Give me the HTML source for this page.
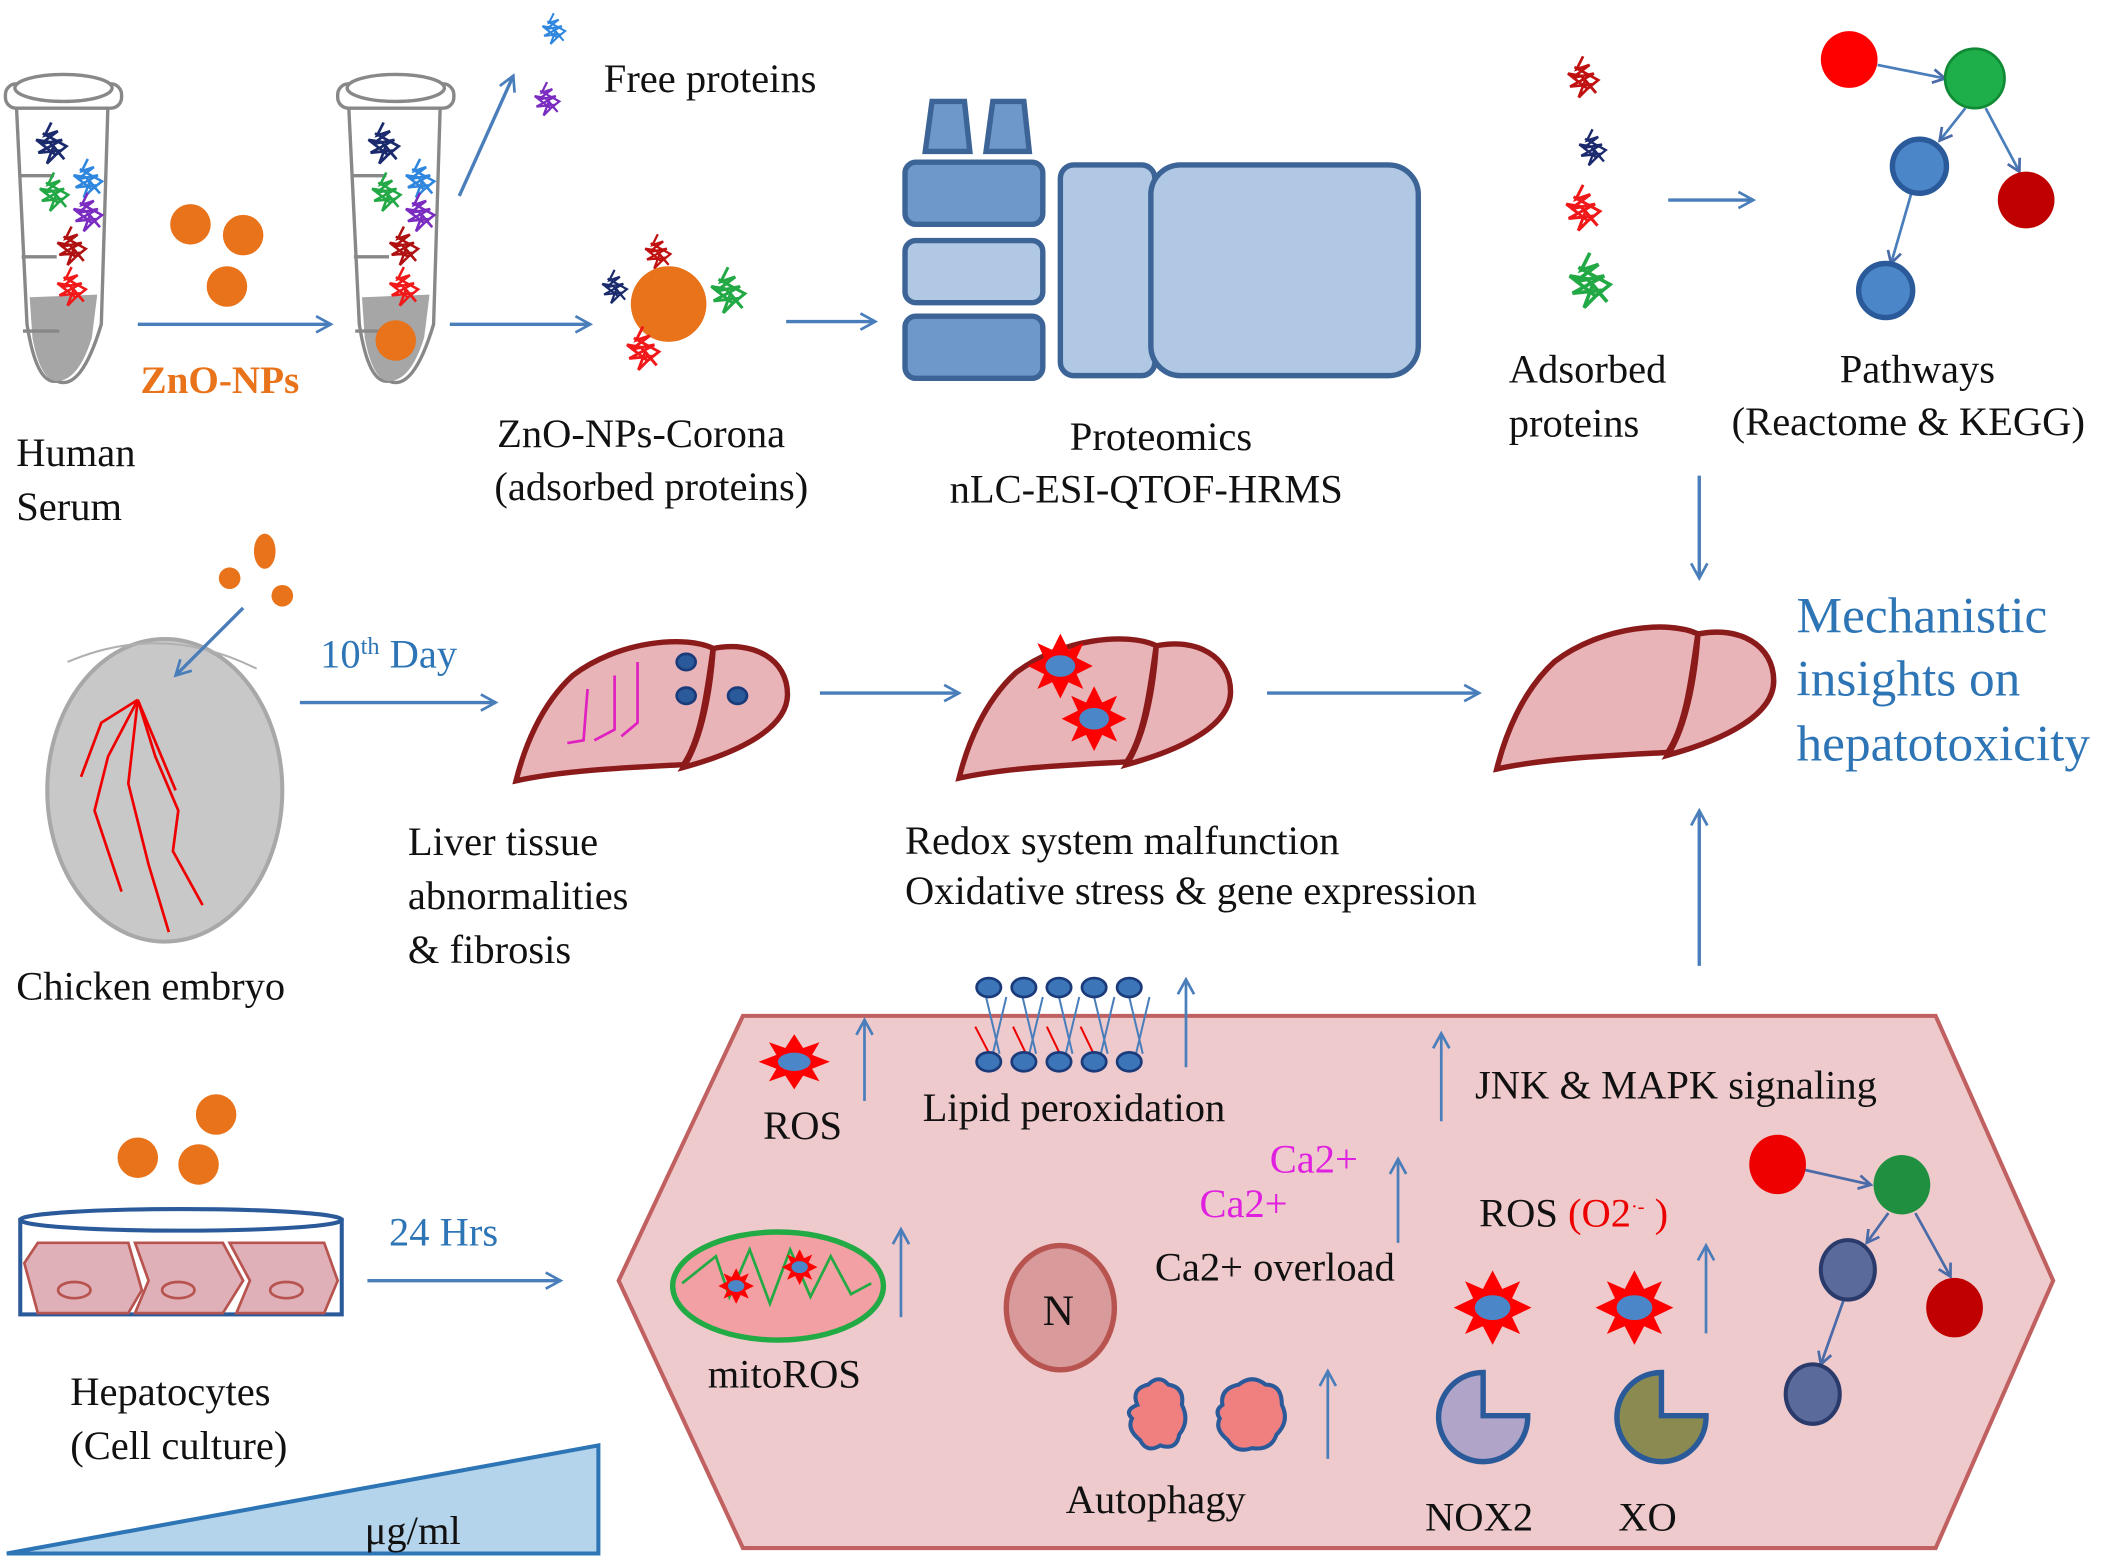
<!DOCTYPE html>
<html><head><meta charset="utf-8"><style>
html,body{margin:0;padding:0;background:#fff}
svg{display:block}
text{font-family:"Liberation Serif","DejaVu Serif",serif;font-size:30px;fill:#111}
</style></head><body>
<svg width="2118" height="1559" viewBox="0 0 1568 1154" xmlns="http://www.w3.org/2000/svg" font-family="Liberation Serif, DejaVu Serif, serif">
<defs>
<marker id="a" markerWidth="14" markerHeight="14" refX="12" refY="7" orient="auto" markerUnits="userSpaceOnUse"><path d="M1,1 L12,7 L1,13" fill="none" stroke="#4A7EBB" stroke-width="2"/></marker>
<marker id="a2" markerWidth="12" markerHeight="12" refX="10" refY="6" orient="auto" markerUnits="userSpaceOnUse"><path d="M1,1 L10,6 L1,11" fill="none" stroke="#4A6AA8" stroke-width="2"/></marker>
<symbol id="p" viewBox="0 0 40 45" overflow="visible"><path d="M20,2 L14,14 L26,10 L10,22 L30,18 L8,30 L28,28 L16,40 L22,24 L32,36 L18,20 L6,18 L24,32 L34,24 L12,12" fill="none" stroke-width="2.5"/></symbol>
<g id="liver"><path d="M4,112 C10,88 22,56 46,34 C80,8 130,4 150,14 C146,40 142,80 128,100 C90,102 40,104 4,112 Z" fill="#E8B4B8" stroke="#8B1A1A" stroke-width="4"/><path d="M150,14 C180,8 205,22 205,48 C205,72 172,90 128,102 C142,80 148,44 150,14 Z" fill="#E8B4B8" stroke="#8B1A1A" stroke-width="4"/></g>
<g id="star"><polygon points="0,-24 6,-12 17,-17 12,-6 24,0 12,6 17,17 6,12 0,24 -6,12 -17,17 -12,6 -24,0 -12,-6 -17,-17 -6,-12" fill="#F00"/><ellipse rx="11" ry="8" fill="#4A86C8"/></g>
</defs>
<rect width="1568" height="1154" fill="#fff"/>
<g id="tube" stroke="#888" stroke-width="2.5" fill="#fff">
<path d="M12,75 L80,75 L75,240 Q60,290 42,282 Q27,285 20,240 Z"/>
<path d="M22,220 L72,218 L68,250 Q58,282 42,282 Q30,282 24,250 Z" fill="#A6A6A6" stroke="none"/>
<rect x="4" y="62" width="86" height="18" rx="8"/>
<ellipse cx="47" cy="65" rx="36" ry="10"/>
<path d="M15,130 L40,130 M16,190 L42,190 M17,245 L44,245" fill="none"/>
</g>
<use href="#tube" x="246"/>
<use href="#p" x="22" y="88" width="32" height="38" stroke="#1A2A6C"/>
<use href="#p" x="50" y="115" width="30" height="36" stroke="#2E86DE"/>
<use href="#p" x="25" y="125" width="30" height="36" stroke="#22A844"/>
<use href="#p" x="50" y="140" width="30" height="36" stroke="#7A2BC0"/>
<use href="#p" x="38" y="165" width="30" height="36" stroke="#B01010"/>
<use href="#p" x="38" y="195" width="30" height="36" stroke="#F01818"/>
<use href="#p" x="268" y="88" width="32" height="38" stroke="#1A2A6C"/>
<use href="#p" x="296" y="115" width="30" height="36" stroke="#2E86DE"/>
<use href="#p" x="271" y="125" width="30" height="36" stroke="#22A844"/>
<use href="#p" x="296" y="140" width="30" height="36" stroke="#7A2BC0"/>
<use href="#p" x="284" y="165" width="30" height="36" stroke="#B01010"/>
<use href="#p" x="284" y="195" width="30" height="36" stroke="#F01818"/>
<circle cx="293" cy="252" r="15" fill="#E8731A"/>
<g fill="#E8731A"><circle cx="141" cy="166" r="15"/><circle cx="180" cy="174" r="15"/><circle cx="168" cy="212" r="15"/></g>
<line x1="102" y1="240" x2="245" y2="240" stroke="#4A7EBB" stroke-width="2.5" marker-end="url(#a)"/>
<text x="104" y="291" style="font-weight:bold;fill:#E8731A;font-size:29px">ZnO-NPs</text>
<text x="12" y="345">Human</text><text x="12" y="385">Serum</text>
<line x1="340" y1="145" x2="380" y2="56" stroke="#4A7EBB" stroke-width="2.5" marker-end="url(#a)"/>
<use href="#p" x="398" y="2" width="24" height="40" stroke="#2E86DE"/>
<use href="#p" x="392" y="54" width="26" height="40" stroke="#7A2BC0"/>
<text x="447" y="68">Free proteins</text>
<line x1="333" y1="240" x2="437" y2="240" stroke="#4A7EBB" stroke-width="2.5" marker-end="url(#a)"/>
<use href="#p" x="470" y="172" width="34" height="30" stroke="#C01010"/>
<use href="#p" x="442" y="196" width="26" height="34" stroke="#1A2A6C"/>
<circle cx="495" cy="225" r="28" fill="#E8731A"/>
<use href="#p" x="520" y="196" width="38" height="40" stroke="#22A844"/>
<use href="#p" x="458" y="240" width="36" height="38" stroke="#F01818"/>
<text x="368" y="331">ZnO-NPs-Corona</text><text x="366" y="370">(adsorbed proteins)</text>
<line x1="582" y1="238" x2="648" y2="238" stroke="#4A7EBB" stroke-width="2.5" marker-end="url(#a)"/>
<g stroke="#3C6496" stroke-width="4">
<polygon points="690,75 714,75 718,112 685,112" fill="#6E98C8"/>
<polygon points="735,75 758,75 762,112 730,112" fill="#6E98C8"/>
<rect x="670" y="120" width="102" height="46" rx="8" fill="#6E98C8"/>
<rect x="670" y="178" width="102" height="46" rx="8" fill="#B0C8E4"/>
<rect x="670" y="234" width="102" height="46" rx="8" fill="#6E98C8"/>
<rect x="785" y="122" width="70" height="156" rx="10" fill="#B0C8E4"/>
<rect x="852" y="122" width="198" height="156" rx="22" fill="#B0C8E4"/>
</g>
<text x="792" y="333">Proteomics</text><text x="703" y="372">nLC-ESI-QTOF-HRMS</text>
<use href="#p" x="1152" y="40" width="40" height="36" stroke="#C01010"/>
<use href="#p" x="1165" y="92" width="28" height="36" stroke="#1A2A6C"/>
<use href="#p" x="1152" y="135" width="40" height="40" stroke="#F01818"/>
<use href="#p" x="1152" y="185" width="50" height="48" stroke="#22A844"/>
<line x1="1235" y1="148" x2="1298" y2="148" stroke="#4A7EBB" stroke-width="2.5" marker-end="url(#a)"/>
<text x="1117" y="283">Adsorbed</text><text x="1117" y="323">proteins</text>
<g stroke="#4A7EBB" stroke-width="2" marker-end="url(#a2)">
<line x1="1390" y1="48" x2="1440" y2="58"/><line x1="1455" y1="80" x2="1436" y2="104"/><line x1="1470" y1="80" x2="1495" y2="127"/><line x1="1415" y1="143" x2="1400" y2="195"/></g>
<circle cx="1369" cy="44" r="21" fill="#F00"/><circle cx="1462" cy="58" r="22" fill="#1FAF4A" stroke="#118A35" stroke-width="2"/>
<circle cx="1421" cy="123" r="20" fill="#4A86C8" stroke="#2A5A9A" stroke-width="4"/><circle cx="1500" cy="148" r="21" fill="#C00000"/>
<circle cx="1396" cy="215" r="20" fill="#4A86C8" stroke="#2A5A9A" stroke-width="4"/>
<text x="1362" y="283">Pathways</text><text x="1282" y="322">(Reactome &amp; KEGG)</text>
<line x1="1258" y1="352" x2="1258" y2="428" stroke="#4A7EBB" stroke-width="2.5" marker-end="url(#a)"/>
<text x="1330" y="468" style="fill:#2E75B6;font-size:38px">Mechanistic</text><text x="1330" y="515" style="fill:#2E75B6;font-size:38px">insights on</text><text x="1330" y="563" style="fill:#2E75B6;font-size:38px">hepatotoxicity</text>
<line x1="1258" y1="715" x2="1258" y2="600" stroke="#4A7EBB" stroke-width="2.5" marker-end="url(#a)"/>
<ellipse cx="122" cy="585" rx="87" ry="112" fill="#C8C8C8" stroke="#A8A8A8" stroke-width="3"/>
<path d="M50,490 Q120,460 190,495" fill="none" stroke="#B0B0B0" stroke-width="1.5"/>
<g fill="none" stroke="#E00" stroke-width="2"><path d="M102,518 L80,560 L70,600 L90,660"/><path d="M102,518 L95,580 L110,640 L125,690"/><path d="M102,518 L115,560 L132,600 L128,630 L150,670"/><path d="M102,518 L75,535 L60,575"/><path d="M102,518 L130,585"/></g>
<g fill="#E8731A"><ellipse cx="196" cy="408" rx="8" ry="13"/><circle cx="170" cy="428" r="8"/><circle cx="209" cy="441" r="8"/></g>
<line x1="180" y1="450" x2="130" y2="500" stroke="#4A7EBB" stroke-width="2.5" marker-end="url(#a)"/>
<text x="12" y="740">Chicken embryo</text>
<line x1="222" y1="520" x2="367" y2="520" stroke="#4A7EBB" stroke-width="2.5" marker-end="url(#a)"/>
<text x="237" y="494" style="fill:#2E75B6">10<tspan dy="-10" style="font-size:18px">th</tspan><tspan dy="10"> Day</tspan></text>
<use href="#liver" x="378" y="466"/>
<g fill="none" stroke="#E020C0" stroke-width="2"><path d="M435,510 L432,548 L420,550"/><path d="M455,500 L455,540 L440,548"/><path d="M472,490 L472,535 L460,545"/></g>
<g fill="#2A5A9A" stroke="#1A3A7A" stroke-width="2"><ellipse cx="508" cy="490" rx="7" ry="6"/><ellipse cx="508" cy="515" rx="7" ry="6"/><ellipse cx="546" cy="515" rx="7" ry="6"/></g>
<line x1="607" y1="513" x2="710" y2="513" stroke="#4A7EBB" stroke-width="2.5" marker-end="url(#a)"/>
<use href="#liver" x="706" y="464"/>
<use href="#star" transform="translate(785,493)"/><use href="#star" transform="translate(810,532)"/>
<line x1="938" y1="513" x2="1095" y2="513" stroke="#4A7EBB" stroke-width="2.5" marker-end="url(#a)"/>
<use href="#liver" transform="translate(1104,455) scale(1.02)"/>
<text x="302" y="633">Liver tissue</text><text x="302" y="673">abnormalities</text><text x="302" y="713">&amp; fibrosis</text>
<text x="670" y="632">Redox system malfunction</text><text x="670" y="669">Oxidative stress &amp; gene expression</text>
<g fill="#E8731A"><circle cx="160" cy="825" r="15"/><circle cx="102" cy="857" r="15"/><circle cx="147" cy="862" r="15"/></g>
<rect x="15" y="903" width="238" height="70" fill="#fff" stroke="#2A5A9A" stroke-width="3"/>
<ellipse cx="134" cy="903" rx="119" ry="8" fill="#fff" stroke="#2A5A9A" stroke-width="3"/>
<g fill="#E0B0B8" stroke="#B85450" stroke-width="2">
<polygon points="18,935 28,920 95,920 105,955 95,972 28,972"/><polygon points="100,920 165,920 180,948 165,972 100,972 110,948"/><polygon points="170,920 240,920 250,948 240,972 175,972 185,948"/>
<ellipse cx="55" cy="955" rx="12" ry="6"/><ellipse cx="132" cy="955" rx="12" ry="6"/><ellipse cx="212" cy="955" rx="12" ry="6"/></g>
<text x="288" y="922" style="fill:#2E75B6">24 Hrs</text>
<line x1="272" y1="948" x2="415" y2="948" stroke="#4A7EBB" stroke-width="2.5" marker-end="url(#a)"/>
<text x="52" y="1040">Hepatocytes</text><text x="52" y="1080">(Cell culture)</text>
<polygon points="5,1150 443,1070 443,1150" fill="#B4D4EC" stroke="#2E75B6" stroke-width="3"/>
<text x="270" y="1143">μg/ml</text>
<polygon points="458,948 550,752 1433,752 1520,948 1433,1146 550,1146" fill="#EECACC" stroke="#C06060" stroke-width="3"/>
<use href="#star" transform="translate(588,786) scale(1.1,0.85)"/>
<text x="565" y="843">ROS</text>
<line x1="640" y1="815" x2="640" y2="755" stroke="#4A7EBB" stroke-width="2" marker-end="url(#a)"/>
<g stroke="#4A7EBB" stroke-width="1.5"><path d="M730,738 L740,780 M745,738 L735,780 M757,738 L767,780 M772,738 L762,780 M784,738 L794,780 M799,738 L789,780 M810,738 L820,780 M825,738 L815,780 M836,738 L846,780 M851,738 L841,780"/></g>
<g stroke="#E00" stroke-width="1.5"><path d="M722,760 L735,785 M750,760 L762,785 M775,760 L787,785 M800,760 L812,785"/></g>
<g fill="#3C76B8" stroke="#1A3A7A" stroke-width="2">
<ellipse cx="732" cy="731" rx="9" ry="7"/><ellipse cx="758" cy="731" rx="9" ry="7"/><ellipse cx="784" cy="731" rx="9" ry="7"/><ellipse cx="810" cy="731" rx="9" ry="7"/><ellipse cx="836" cy="731" rx="9" ry="7"/>
<ellipse cx="732" cy="786" rx="9" ry="7"/><ellipse cx="758" cy="786" rx="9" ry="7"/><ellipse cx="784" cy="786" rx="9" ry="7"/><ellipse cx="810" cy="786" rx="9" ry="7"/><ellipse cx="836" cy="786" rx="9" ry="7"/></g>
<text x="683" y="830">Lipid peroxidation</text>
<line x1="878" y1="790" x2="878" y2="725" stroke="#4A7EBB" stroke-width="2" marker-end="url(#a)"/>
<line x1="1067" y1="830" x2="1067" y2="765" stroke="#4A7EBB" stroke-width="2" marker-end="url(#a)"/>
<text x="1092" y="813">JNK &amp; MAPK signaling</text>
<text x="940" y="868" style="fill:#E020E0">Ca2+</text><text x="888" y="901" style="fill:#E020E0">Ca2+</text>
<text x="855" y="948">Ca2+ overload</text>
<line x1="1035" y1="920" x2="1035" y2="858" stroke="#4A7EBB" stroke-width="2" marker-end="url(#a)"/>
<text x="1095" y="908">ROS <tspan style="fill:#E00">(O2<tspan dy="-10" style="font-size:15px;fill:#E00">·-</tspan><tspan dy="10" style="fill:#E00"> )</tspan></tspan></text>
<line x1="1263" y1="987" x2="1263" y2="922" stroke="#4A7EBB" stroke-width="2" marker-end="url(#a)"/>
<ellipse cx="576" cy="952" rx="78" ry="40" fill="#F2A0A4" stroke="#22AA44" stroke-width="4"/>
<path d="M505,950 L530,930 L540,960 L555,925 L570,965 L585,925 L600,960 L615,930 L630,958 L645,950" fill="none" stroke="#22AA44" stroke-width="2"/>
<use href="#star" transform="translate(545,952) scale(0.55)"/><use href="#star" transform="translate(592,938) scale(0.55)"/>
<text x="524" y="1027">mitoROS</text>
<line x1="667" y1="975" x2="667" y2="910" stroke="#4A7EBB" stroke-width="2" marker-end="url(#a)"/>
<ellipse cx="785" cy="968" rx="40" ry="46" fill="#D99A9C" stroke="#B85450" stroke-width="4"/>
<text x="772" y="981" style="font-size:32px">N</text>
<g fill="#F08080" stroke="#2A5A9A" stroke-width="3">
<path d="M842,1040 q-5,-12 8,-15 q8,-8 15,0 q12,2 10,15 q6,12 -2,22 q-2,12 -14,8 q-10,6 -15,-4 q-10,-8 -6,-16 q-6,-6 4,-10 z"/>
<path d="M905,1040 q-2,-12 12,-15 q10,-8 20,0 q12,0 12,15 q6,12 -4,22 q-4,12 -18,10 q-12,4 -18,-6 q-10,-8 -6,-16 q-4,-6 2,-10 z"/></g>
<text x="789" y="1120">Autophagy</text>
<line x1="983" y1="1080" x2="983" y2="1015" stroke="#4A7EBB" stroke-width="2" marker-end="url(#a)"/>
<use href="#star" transform="translate(1105,968) scale(1.2,1.15)"/><use href="#star" transform="translate(1210,968) scale(1.2,1.15)"/>
<path d="M1098,1048 L1098,1016 A33,33 0 1 0 1131,1048 Z" fill="#B0A4C8" stroke="#2A5A9A" stroke-width="4"/>
<path d="M1230,1048 L1230,1016 A33,33 0 1 0 1263,1048 Z" fill="#8B8A50" stroke="#2A5A9A" stroke-width="4"/>
<text x="1055" y="1133">NOX2</text><text x="1198" y="1133">XO</text>
<g stroke="#4A6AA8" stroke-width="2" marker-end="url(#a2)">
<line x1="1336" y1="866" x2="1385" y2="877"/><line x1="1398" y1="898" x2="1382" y2="920"/><line x1="1418" y1="898" x2="1444" y2="945"/><line x1="1365" y1="962" x2="1348" y2="1010"/></g>
<ellipse cx="1316" cy="862" rx="21" ry="22" fill="#E00"/>
<ellipse cx="1408" cy="877" rx="21" ry="22" fill="#1E9040"/>
<ellipse cx="1368" cy="940" rx="20" ry="22" fill="#5A6A9A" stroke="#2A3A6A" stroke-width="3"/>
<ellipse cx="1447" cy="968" rx="21" ry="22" fill="#C00000"/>
<ellipse cx="1342" cy="1032" rx="20" ry="22" fill="#5A6A9A" stroke="#2A3A6A" stroke-width="3"/>
</svg>
</body></html>
